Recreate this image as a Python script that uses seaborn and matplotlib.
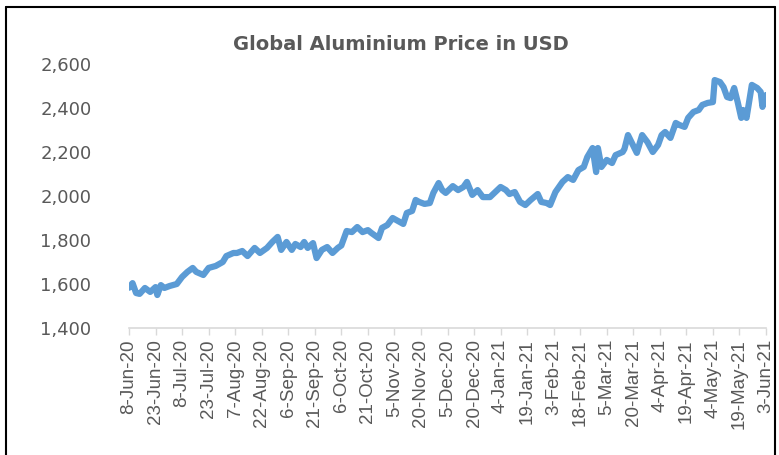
import pandas as pd
import matplotlib
matplotlib.use("Agg")
import matplotlib.pyplot as plt
from matplotlib.lines import Line2D
from matplotlib.ticker import FuncFormatter
import seaborn as sns

# Values (days after 8-Jun-2020, price in USD)
start_date = "2020-06-08"
day_offset = [0, 2, 4, 6, 9, 12, 15, 16, 18, 20, 23, 27, 30, 33, 36, 38, 42, 45, 49, 53,
              55, 59, 61, 64, 67, 71, 74, 78, 81, 84, 86, 89, 92, 94, 97, 99, 101, 104, 106, 109,
              112, 115, 118, 120, 123, 126, 129, 132, 135, 137, 141, 143, 146, 149, 151, 155, 157, 160, 162, 164,
              167, 170, 172, 175, 177, 179, 183, 186, 189, 191, 194, 197, 200, 204, 207, 210, 213, 215, 218, 221,
              224, 227, 231, 233, 236, 238, 241, 245, 248, 251, 254, 257, 259, 262, 264, 265, 267, 270, 273, 275,
              279, 280, 282, 284, 287, 290, 293, 296, 299, 301, 303, 306, 309, 311, 314, 316, 319, 322, 324, 327,
              330, 331, 334, 336, 338, 340, 342, 344, 346, 347, 349, 350, 352, 355, 357, 358, 360]
price = [1583, 1604, 1559, 1555, 1582, 1564, 1586, 1550, 1595, 1582, 1591, 1600, 1632, 1655, 1673, 1655, 1641, 1673, 1682, 1700,
         1727, 1741, 1741, 1750, 1727, 1764, 1741, 1764, 1791, 1814, 1755, 1791, 1755, 1782, 1768, 1791, 1764, 1786, 1718, 1755,
         1768, 1741, 1764, 1775, 1841, 1836, 1859, 1836, 1845, 1832, 1809, 1855, 1868, 1900, 1891, 1873, 1923, 1932, 1982, 1973,
         1964, 1968, 2014, 2059, 2027, 2014, 2045, 2027, 2041, 2064, 2005, 2027, 1995, 1995, 2018, 2041, 2027, 2009, 2018, 1973,
         1959, 1982, 2009, 1973, 1968, 1959, 2018, 2064, 2086, 2073, 2118, 2132, 2177, 2218, 2109, 2218, 2132, 2164, 2150, 2186,
         2200, 2214, 2277, 2245, 2196, 2277, 2245, 2200, 2232, 2277, 2291, 2264, 2332, 2323, 2314, 2355, 2382, 2391, 2414, 2423,
         2427, 2527, 2518, 2495, 2450, 2445, 2491, 2427, 2355, 2391, 2355, 2405, 2505, 2491, 2473, 2405, 2459]
y_ticks = [1400, 1600, 1800, 2000, 2200, 2400, 2600]
title = "Global Aluminium Price in USD"

sns.set_theme(style="white")
plt.rcParams['font.family'] = ['DejaVu Sans']

label_color = "#595959"
line_color = "#5B9BD5"

df = pd.DataFrame({
    "date": pd.Timestamp(start_date) + pd.to_timedelta(day_offset, unit="D"),
    "price": price,
})
tick_dates = pd.date_range(start_date, periods=25, freq="15D")

fig = plt.figure(figsize=(7.79, 4.55), dpi=100)
ax = fig.add_axes([129 / 779, 127 / 455, (766 - 129) / 779, (391 - 127) / 455])

sns.lineplot(data=df, x="date", y="price", ax=ax, color=line_color, linewidth=4.5,
             solid_joinstyle="round", solid_capstyle="round")

ax.set_xlim(tick_dates[0], tick_dates[-1])
ax.set_ylim(y_ticks[0], y_ticks[-1])
ax.set_yticks(y_ticks)
ax.yaxis.set_major_formatter(FuncFormatter(lambda v, p: f"{int(v):,}"))
ax.set_xticks(tick_dates)
ax.set_xticklabels([f"{d.day}-{d.strftime('%b-%y')}" for d in tick_dates], rotation=90,
                   family=['Liberation Sans', 'DejaVu Sans'])

ax.set_xlabel("")
ax.set_ylabel("")
ax.grid(False)
for s in ["top", "right", "left"]:
    ax.spines[s].set_visible(False)
ax.spines["bottom"].set_color("#D9D9D9")
ax.spines["bottom"].set_linewidth(1.2)

ax.tick_params(axis="x", which="major", bottom=True, length=5, width=1, color="#D9D9D9",
               labelsize=13.5, labelcolor=label_color, pad=3)
ax.tick_params(axis="y", left=False, labelsize=13, labelcolor=label_color, pad=21)

fig.text(401 / 779, 1 - 45 / 455, title, ha="center", va="center",
         fontsize=14, fontweight="bold", color=label_color)

# chart area border (left, top, right edges)
bx0, bx1, by_top = 6 / 779, 775 / 779, 1 - 7 / 455
fig.add_artist(Line2D([bx0, bx0], [0, by_top], transform=fig.transFigure, color="black", lw=1.5))
fig.add_artist(Line2D([bx0, bx1], [by_top, by_top], transform=fig.transFigure, color="black", lw=1.5))
fig.add_artist(Line2D([bx1, bx1], [0, by_top], transform=fig.transFigure, color="black", lw=1.5))

fig.savefig("out.png", dpi=100)
